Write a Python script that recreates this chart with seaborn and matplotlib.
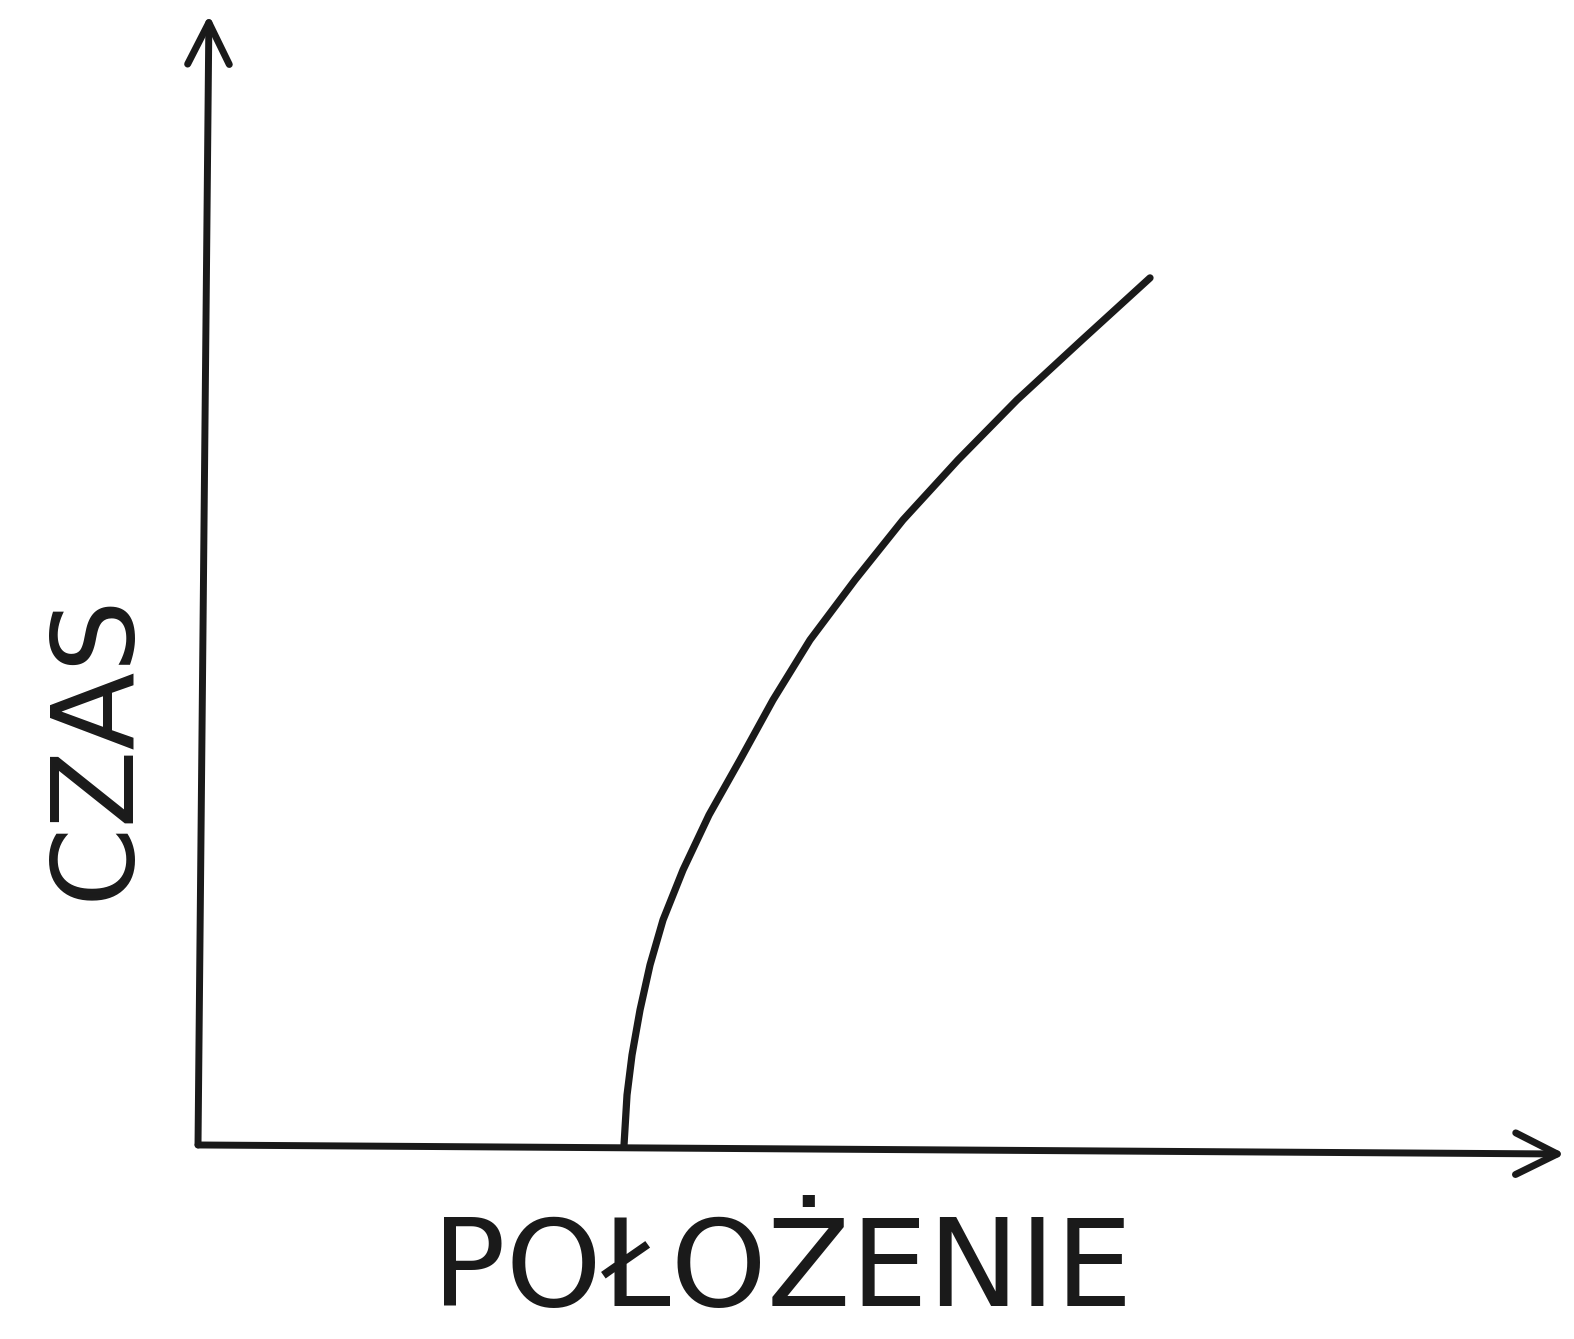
import numpy as np
import pandas as pd
import matplotlib.pyplot as plt
import seaborn as sns

# Dane odczytane ze szkicu (jednostki umowne)
polozenie = [4.26, 4.29, 4.34, 4.42, 4.52, 4.65, 4.85, 5.11, 5.42, 5.75, 6.12,
             6.57, 7.05, 7.60, 8.19, 8.84, 9.52]
czas = [0.0, 0.50, 0.90, 1.35, 1.80, 2.25, 2.75, 3.30, 3.85, 4.45, 5.05,
        5.65, 6.25, 6.85, 7.45, 8.05, 8.67]

x_label = 'POŁOŻENIE'
y_label = 'CZAS'

df = pd.DataFrame({'polozenie': polozenie, 'czas': czas})

sns.set_theme(style='white')
plt.rcParams['font.family'] = ['DejaVu Sans']

fig = plt.figure(figsize=(15.74, 13.39), dpi=100)
ax = fig.add_axes([0.1258, 0.1449, 0.8685, 0.844])

ink = '#1a1a1a'

sns.lineplot(data=df, x='polozenie', y='czas', sort=False, color=ink,
             linewidth=5.2, ax=ax, solid_capstyle='round', solid_joinstyle='round')

ax.set_xlim(0, 13.67)
ax.set_ylim(0, 11.3)

# osie jako strzałki
for s in ax.spines.values():
    s.set_visible(False)
ax.set_xticks([])
ax.set_yticks([])
ax.set_xlabel('')
ax.set_ylabel('')

arrow_kw = dict(arrowstyle='->', color=ink, lw=5, mutation_scale=75,
                shrinkA=0, shrinkB=0, capstyle='round', joinstyle='round')
ax.annotate('', xy=(0.008, 1.0), xytext=(0.0, 0.0), xycoords='axes fraction',
            textcoords='axes fraction', arrowprops=arrow_kw, annotation_clip=False)
ax.annotate('', xy=(1.0, -0.008), xytext=(0.0, 0.0), xycoords='axes fraction',
            textcoords='axes fraction', arrowprops=arrow_kw, annotation_clip=False)

fig.text(0.497, 0.050, x_label, ha='center', va='center', fontsize=88,
         color=ink)
fig.text(0.061, 0.443, y_label, ha='center', va='center', fontsize=82,
         color=ink, rotation=90)

fig.savefig('out.png', dpi=100, facecolor='white')
